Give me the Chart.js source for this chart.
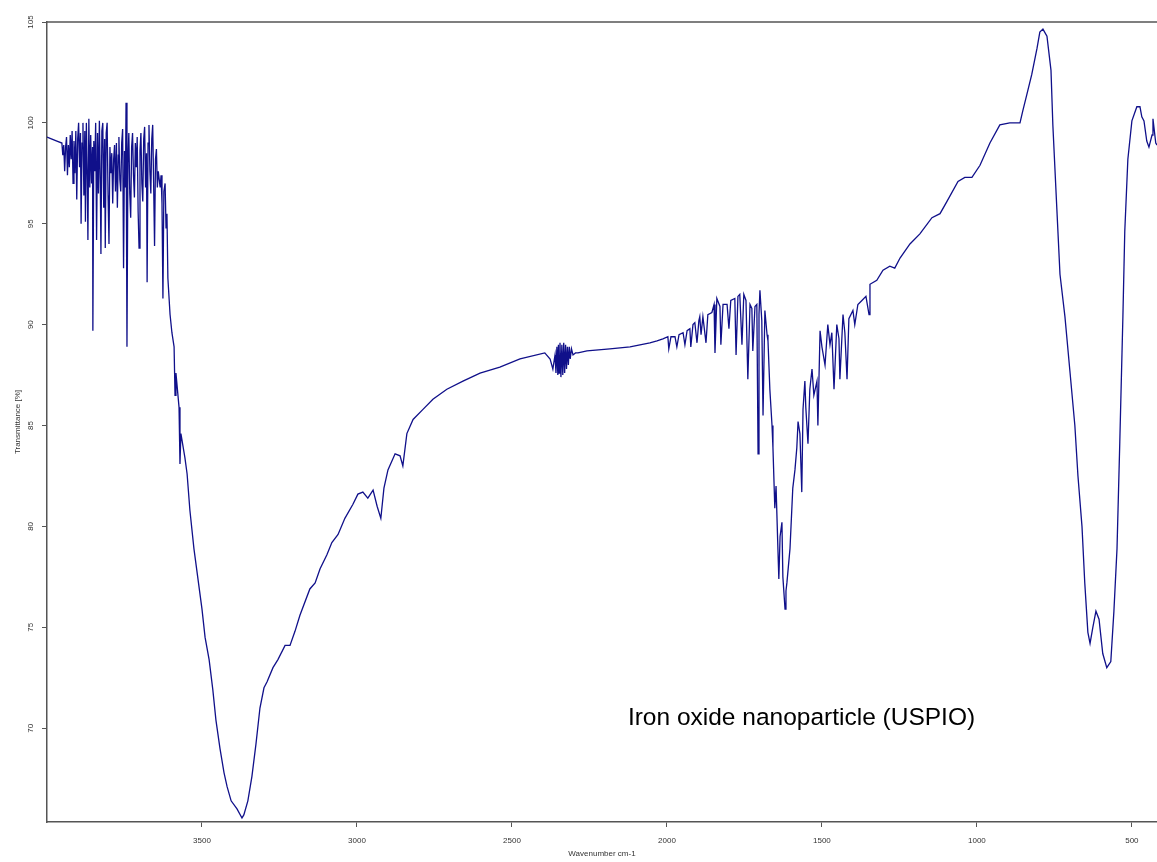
<!DOCTYPE html>
<html>
<head>
<meta charset="utf-8">
<script src="https://cdn.jsdelivr.net/npm/chart.js@4.4.1/dist/chart.umd.min.js"></script>
<style>
  body { margin: 0; background: #fff; }
  #wrap { width: 1157px; height: 862px; }
</style>
</head>
<body>
<div id="wrap"><canvas id="ftir"></canvas></div>
<script>
// FTIR spectrum
const wavenumber = [
  4000, 3984, 3968,
  // water vapour noise
  3952, 3949, 3946, 3943, 3940, 3937, 3934, 3931, 3928, 3925,
  3922, 3919, 3916, 3913, 3910, 3907, 3904, 3901, 3898, 3895,
  3892, 3890, 3887, 3884, 3881, 3878, 3876, 3873, 3870, 3868,
  3865, 3862, 3859, 3856, 3853, 3852, 3849, 3846, 3843, 3840,
  3837, 3834, 3831, 3828, 3826, 3823, 3820, 3817, 3814, 3812,
  3809, 3806, 3803, 3800, 3797, 3794, 3791, 3788, 3785, 3782,
  3779, 3776, 3773, 3770, 3768, 3765, 3762, 3759, 3756, 3753,
  3750, 3747, 3745, 3742, 3739, 3736, 3733, 3730, 3727, 3724,
  3721, 3718, 3715, 3712, 3709, 3706, 3703, 3700, 3697, 3694,
  3691, 3688, 3685, 3682, 3679, 3677, 3674, 3671, 3668, 3665,
  3662, 3659, 3656, 3653, 3650, 3647, 3644, 3641, 3638, 3635,
  3632, 3629, 3626, 3623, 3619, 3616, 3613, 3610,
  // O-H band
  3603, 3597, 3590, 3587, 3584, 3574, 3571, 3568, 3555, 3548,
  3539, 3526, 3513, 3500, 3490, 3477, 3465, 3455, 3442, 3429,
  3419, 3406, 3387, 3371, 3365, 3352, 3339, 3326, 3313, 3300,
  3290, 3271, 3255, 3232, 3216, 3200, 3184, 3152, 3135, 3119,
  3097, 3081, 3061, 3039, 3013, 2997, 2981, 2965, 2948, 2935,
  2923, 2913, 2900, 2877, 2861, 2852, 2839, 2819, 2787, 2755,
  2710, 2658, 2603, 2539, 2474, 2394, 2377, 2368,
  // CO2
  2361, 2358, 2355, 2352, 2350, 2348, 2345, 2342, 2339, 2336,
  2333, 2330, 2327, 2324, 2321, 2318, 2315, 2312, 2308, 2303,
  2295, 2287, 2258, 2184,
  // bending region and fingerprint
  2119, 2055, 2032, 2013, 1997, 1994, 1987, 1974, 1968, 1961, 1948, 1942, 1935, 1926, 1923, 1916,
  1910, 1903, 1897, 1894, 1890, 1884, 1874, 1868, 1855, 1848, 1845, 1839, 1829, 1826, 1819, 1806,
  1800, 1794, 1781, 1777, 1771, 1765, 1758, 1752, 1745, 1739, 1732, 1726, 1723, 1716, 1710, 1706,
  1703, 1700, 1694, 1690, 1684, 1677, 1674, 1668, 1661, 1658, 1652, 1648, 1642, 1639, 1635, 1629,
  1626, 1619, 1616, 1613, 1603, 1594, 1587, 1581, 1577, 1571, 1565, 1561, 1555, 1552, 1545, 1539,
  1532, 1526, 1516, 1513, 1506, 1500, 1490, 1481, 1474, 1468, 1461, 1452, 1445, 1442, 1432, 1426,
  1419, 1413, 1400, 1394, 1384, 1371, 1358, 1348, 1345, 1323, 1303, 1281, 1265, 1248, 1216, 1184,
  1145, 1119, 1097, 1061, 1039, 1016, 990, 958, 926, 894, 861, 852, 839, 823, 806, 797,
  787, 774, 761, 755, 742, 732, 716, 700, 684, 674, 661, 652, 642, 635, 626, 616,
  606, 594, 581, 568, 558, 548, 539, 529, 523, 513, 500, 484, 474, 468, 461, 452,
  445, 435, 432, 423, 419
];
const transmittance = [
  99.3, 99.2, 99.1,
  99.0, 98.4, 98.9, 97.6, 98.8, 99.3, 97.4, 98.9, 97.8, 99.4,
  98.2, 99.6, 97.0, 99.1, 97.5, 99.6, 96.2, 99.2, 100.0, 97.8,
  99.5, 95.0, 99.0, 100.0, 96.4, 99.6, 95.1, 100.0, 97.2, 94.2,
  100.2, 96.8, 99.4, 97.0, 98.8, 89.7, 99.1, 97.6, 100.0, 94.2,
  99.5, 96.5, 100.1, 97.0, 93.5, 99.6, 100.0, 95.8, 99.2, 93.8,
  99.5, 100.0, 96.4, 94.0, 98.8, 97.5, 98.5, 96.0, 98.2, 98.9,
  96.6, 99.0, 95.8, 98.4, 99.3, 97.2, 96.6, 99.0, 99.7, 92.8,
  98.6, 96.8, 101.0, 88.9, 98.0, 99.5, 96.5, 95.3, 98.8, 99.5,
  97.4, 96.3, 99.0, 97.8, 99.3, 95.6, 93.8, 98.6, 99.5, 97.0,
  96.1, 99.2, 99.8, 96.8, 98.5, 92.1, 99.0, 99.9, 97.6, 96.5,
  99.2, 99.9, 97.0, 93.9, 98.2, 98.7, 96.8, 97.6, 97.2, 96.8,
  97.4, 96.0, 91.3, 96.6, 97.0, 94.8, 95.5, 92.3,
  90.5, 89.6, 88.9, 86.5, 87.6, 85.9, 83.1, 84.6, 83.4, 82.6,
  80.8, 78.9, 77.4, 75.9, 74.5, 73.4, 71.9, 70.4, 69.0, 67.8,
  67.1, 66.4, 66.0, 65.55, 65.7, 66.4, 67.6, 69.2, 71.0, 72.0,
  72.3, 73.0, 73.4, 74.1, 74.1, 74.8, 75.6, 76.9, 77.2, 77.9,
  78.6, 79.2, 79.6, 80.4, 81.1, 81.6, 81.7, 81.4, 81.8, 81.0,
  80.4, 81.9, 82.8, 83.6, 83.5, 83.0, 84.6, 85.3, 85.8, 86.3,
  86.8, 87.2, 87.6, 87.9, 88.3, 88.6, 88.3, 87.8,
  88.5, 87.6, 88.9, 87.5, 89.0, 87.6, 89.1, 87.4, 89.0, 87.5,
  89.1, 87.6, 89.0, 87.8, 88.9, 88.0, 88.9, 88.3, 88.8, 88.5,
  88.6, 88.6, 88.7, 88.8,
  88.9, 89.1, 89.2, 89.3, 89.4, 88.8, 89.4, 89.4, 88.9, 89.5, 89.6, 89.0, 89.7, 89.8, 88.9, 90.0,
  90.1, 89.1, 90.2, 90.4, 89.5, 90.4, 89.1, 90.5, 90.6, 91.0, 88.6, 91.3, 90.9, 89.0, 91.0, 91.0,
  89.8, 91.2, 91.3, 88.5, 91.4, 91.5, 89.0, 91.5, 91.2, 87.3, 91.0, 90.8, 88.7, 90.9, 91.0, 83.6,
  90.5, 91.7, 90.2, 85.5, 90.7, 89.5, 89.2, 86.8, 85.0, 83.9, 80.9, 82.0, 78.9, 77.4, 79.5, 80.2,
  77.5, 75.9, 76.8, 77.2, 78.9, 81.9, 82.8, 83.9, 85.2, 84.6, 81.7, 85.8, 87.2, 85.9, 84.1, 86.8,
  87.8, 86.5, 87.2, 85.0, 89.7, 88.9, 88.0, 90.0, 89.0, 89.6, 86.8, 90.0, 89.3, 87.3, 90.5, 89.6,
  87.3, 90.3, 90.7, 90.0, 91.0, 91.2, 91.4, 90.5, 92.0, 92.2, 92.7, 92.9, 92.8, 93.3, 94.0, 94.5,
  95.3, 95.5, 96.1, 97.1, 97.3, 97.3, 97.9, 99.0, 99.9, 100.0, 100.0, 100.6, 101.4, 102.4, 103.7, 104.5,
  104.65, 104.3, 102.6, 99.9, 95.7, 92.5, 90.4, 87.7, 85.0, 82.5, 80.0, 77.2, 74.75, 74.2, 75.0, 75.8,
  75.4, 73.7, 73.0, 73.3, 75.8, 78.9, 84.2, 90.4, 94.6, 98.2, 100.1, 100.8, 100.8, 100.3, 100.1, 99.1,
  98.8, 99.4, 100.2, 99.0, 98.9
];
const xTicks = [3500, 3000, 2500, 2000, 1500, 1000, 500];
const yTicks = [70, 75, 80, 85, 90, 95, 100, 105];
const sampleName = 'Iron oxide nanoparticle (USPIO)';

const points = wavenumber.map((w, i) => ({ x: w, y: transmittance[i] }));

// rotated y labels, top frame line and the sample caption
const extras = {
  id: 'extras',
  afterDraw(chart) {
    const ctx = chart.ctx;
    const area = chart.chartArea;
    const ys = chart.scales.y;
    const xs = chart.scales.x;
    ctx.save();
    ctx.strokeStyle = '#555';
    ctx.lineWidth = 1.5;
    ctx.beginPath();
    ctx.moveTo(area.left, area.top);
    ctx.lineTo(area.right, area.top);
    ctx.stroke();

    ctx.fillStyle = '#333';
    ctx.font = '8px Arial, "Liberation Sans", sans-serif';
    ctx.textAlign = 'center';
    ctx.textBaseline = 'middle';
    yTicks.forEach(v => {
      ctx.save();
      ctx.translate(31, ys.getPixelForValue(v));
      ctx.rotate(-Math.PI / 2);
      ctx.fillText(String(v), 0, 0);
      ctx.restore();
    });

    ctx.fillStyle = '#000';
    ctx.font = '24.5px Arial, "Liberation Sans", sans-serif';
    ctx.textAlign = 'left';
    ctx.fillText(sampleName, xs.getPixelForValue(2126), ys.getPixelForValue(70.5));
    ctx.restore();
  }
};

new Chart(document.getElementById('ftir'), {
  type: 'line',
  data: {
    datasets: [{
      label: sampleName,
      data: points,
      borderColor: '#10108a',
      borderWidth: 1.3,
      pointRadius: 0,
      tension: 0,
      fill: false
    }]
  },
  options: {
    responsive: true,
    maintainAspectRatio: false,
    animation: false,
    layout: { padding: { top: 22, right: 0, left: 0, bottom: 0 } },
    plugins: { legend: { display: false }, tooltip: { enabled: false } },
    scales: {
      x: {
        type: 'linear',
        reverse: true,
        min: 419,
        max: 4000,
        afterBuildTicks: axis => { axis.ticks = xTicks.map(v => ({ value: v })); },
        afterFit: axis => { axis.height = 40; },
        ticks: {
          color: '#333',
          font: { size: 8, family: 'Arial, "Liberation Sans", sans-serif' },
          padding: 9,
          maxRotation: 0,
          autoSkip: false,
          callback: v => String(v)
        },
        grid: { drawOnChartArea: false, drawTicks: true, tickLength: 5, color: '#555' },
        border: { display: true, color: '#555', width: 1.5 },
        title: {
          display: true,
          text: 'Wavenumber cm-1',
          color: '#333',
          font: { size: 8, family: 'Arial, "Liberation Sans", sans-serif' },
          padding: { top: 0, bottom: 3 }
        }
      },
      y: {
        type: 'linear',
        min: 65.35,
        max: 105,
        afterBuildTicks: axis => { axis.ticks = yTicks.map(v => ({ value: v })); },
        afterFit: axis => { axis.width = 47; },
        ticks: { display: false },
        grid: { drawOnChartArea: false, drawTicks: true, tickLength: 5, color: '#555' },
        border: { display: true, color: '#555', width: 1.5 },
        title: {
          display: true,
          text: 'Transmittance [%]',
          color: '#333',
          font: { size: 8, family: 'Arial, "Liberation Sans", sans-serif' },
          padding: { top: 13, bottom: 0 }
        }
      }
    }
  },
  plugins: [extras]
});
</script>
</body>
</html>
